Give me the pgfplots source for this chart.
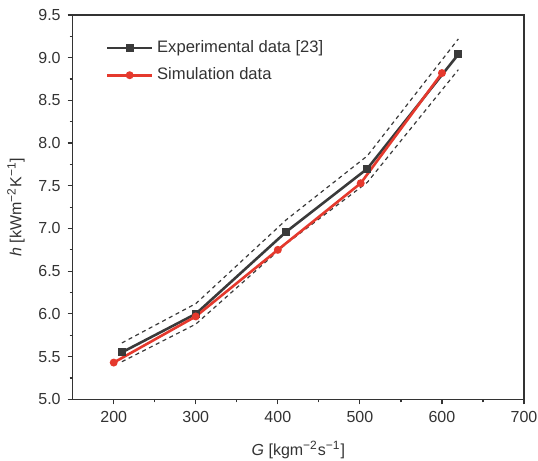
\documentclass[border=0pt]{standalone}
\usepackage{fontspec}
\setmainfont{Liberation Sans}
\usepackage{pgfplots}
\pgfplotsset{compat=1.18}
\definecolor{expc}{HTML}{3A3A3A}
\definecolor{simc}{HTML}{E5392D}
\definecolor{axc}{HTML}{333333}
\begin{document}
\begin{tikzpicture}
\begin{axis}[
  scale only axis,
  width=225.65pt, height=192.15pt,
  xmin=150, xmax=700, ymin=5.0, ymax=9.5,
  xtick={200,300,400,500,600,700},
  ytick={5.0,5.5,6.0,6.5,7.0,7.5,8.0,8.5,9.0,9.5},
  minor x tick num=1, minor y tick num=1,
  yticklabel style={/pgf/number format/.cd,fixed,fixed zerofill,precision=1},
  /pgf/number format/assume math mode=true,
  tick align=outside,
  xtick pos=bottom, ytick pos=left,
  major tick length=2.5pt, minor tick length=1.6pt,
  every tick/.style={axc, line width=0.6pt},
  axis line style={axc, line width=0.7pt},
  tick label style={text=axc},
  font=\fontsize{8}{9.5}\selectfont,
  xlabel={\textit{G} [kgm\textsuperscript{−2}s\textsuperscript{−1}]},
  ylabel={\textit{h} [kWm\textsuperscript{−2}K\textsuperscript{−1}]},
  xlabel style={at={(axis description cs:0.5,-0.1327)}, anchor=center, text=axc},
  ylabel style={at={(axis description cs:-0.1256,0.5)}, anchor=center, text=axc},
  legend style={draw=none, fill=none, at={(0.06,0.955)}, anchor=north west,
    font=\fontsize{8.3}{10}\selectfont, row sep=2pt, text=axc},
  legend cell align=left,
  legend image code/.code={\draw[mark repeat=2,mark phase=2,#1] plot coordinates {(0cm,0cm) (0.39cm,0cm) (0.78cm,0cm)};},
]
\addplot[forget plot, dash pattern=on 2pt off 1.8pt, expc, line width=0.6pt] coordinates {
  (210,5.66) (300,6.12) (410,7.10) (509,7.85) (620,9.22)};
\addplot[forget plot, dash pattern=on 2pt off 1.8pt, expc, line width=0.6pt] coordinates {
  (210,5.44) (300,5.88) (410,6.82) (509,7.54) (620,8.86)};
\addplot[expc, line width=1.3pt, mark=square*, mark size=1.3pt, mark options={solid}] coordinates {
  (210,5.55) (300,6.00) (410,6.96) (509,7.70) (620,9.04)};
\addlegendentry{Experimental data [23]}
\addplot[simc, line width=1.3pt, mark=*, mark size=1.3pt, mark options={solid}] coordinates {
  (200,5.43) (300,5.97) (400,6.75) (501,7.53) (600,8.82)};
\addlegendentry{Simulation data}
\end{axis}
\pgfresetboundingbox
\path[use as bounding box] ([shift={(-36.35pt,-30.5pt)}]current axis.south west) rectangle ([shift={(7pt,7.5pt)}]current axis.north east);
\end{tikzpicture}
\end{document}
